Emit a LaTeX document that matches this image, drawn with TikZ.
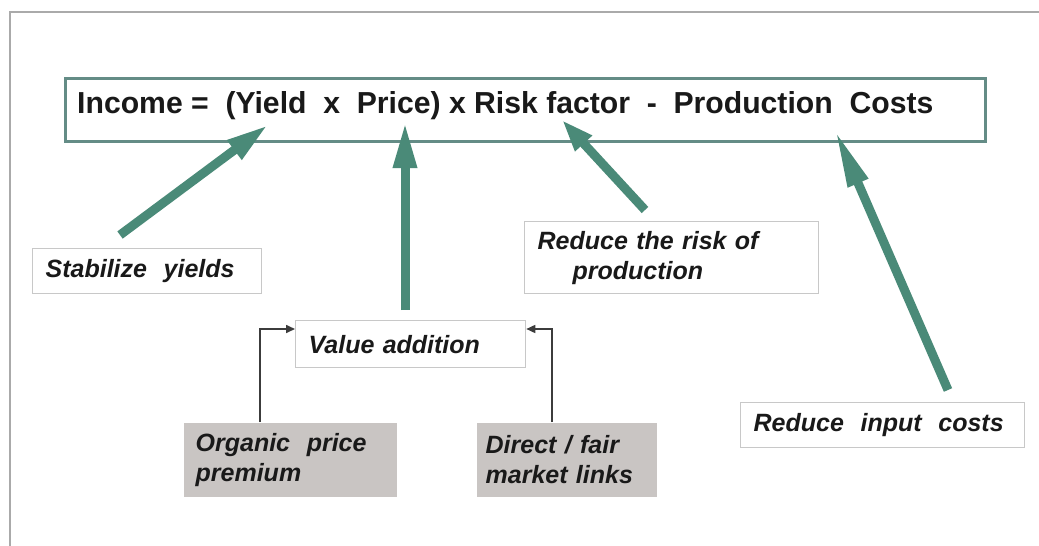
\documentclass[tikz,border=0pt]{standalone}
\usepackage{fontspec}
\setmainfont{Liberation Sans}
\usetikzlibrary{arrows.meta}
\definecolor{tealarrow}{RGB}{74,138,120}
\definecolor{mainedge}{RGB}{100,140,134}
\definecolor{boxedge}{RGB}{200,200,200}
\definecolor{framegray}{RGB}{170,170,170}
\definecolor{boxfill}{RGB}{201,197,195}
\definecolor{inkc}{RGB}{25,25,25}
\tikzset{
  lbl/.style={draw=boxedge, line width=1.3pt, fill=white, text=inkc,
    font=\fontsize{25}{30}\selectfont\bfseries\itshape, align=left,
    inner ysep=0pt, anchor=north west},
  graylbl/.style={lbl, draw=none, fill=boxfill},
  bigarrow/.style={draw=tealarrow, line width=9pt, line cap=butt},
  sarrow/.style={draw=inkc!85, line width=1.6pt, -{Triangle[length=9pt,width=8pt]}},
}
\begin{document}
\begin{tikzpicture}[x=1pt,y=-1pt]
\useasboundingbox (0,0) rectangle (1039,546);
\fill[white] (0,0) rectangle (1039,546);
\draw[framegray, line width=1.3pt] (1039,12) -- (10,12) -- (10,546);

% main equation box
\node[draw=mainedge, line width=2.6pt, minimum width=920pt, minimum height=63pt, anchor=north west, inner sep=0pt] (eq) at (64,77) {};
\node[anchor=base west, inner sep=0pt, text=inkc] (eqtext) at (77,113)
  {\resizebox{856pt}{22pt}{\bfseries Income~=~~(Yield~~x~~Price)~x~Risk~factor~~-~~Production~~Costs}};

% label boxes
\node[lbl, minimum height=45pt, inner xsep=13pt, text width=203pt] (stab) at (32,248) {Stabilize\ \ yields};
\node[lbl, minimum height=47pt, inner xsep=13pt, text width=204pt] (val) at (295,320) {Value addition};
\node[lbl, minimum height=72pt, inner xsep=13pt, text width=268pt] (risk) at (524,221) {Reduce\ the risk of\\\hspace{35pt}production};
\node[lbl, minimum height=45pt, inner xsep=13pt, text width=258pt] (inp) at (740,402) {Reduce\ \ input\ \ costs};
\node[graylbl, minimum height=74pt, inner xsep=12pt, text width=189pt] (org) at (183,422) {Organic\ \ price\\premium};
\node[graylbl, minimum height=74pt, inner xsep=9pt, text width=162pt] (dir) at (476,422) {Direct / fair\\market\ links};

% big arrows
\coordinate (t1) at (120,235); \coordinate (h1) at (268,125);
\coordinate (t2) at (405,310); \coordinate (h2) at (405,122);
\coordinate (t3) at (645,210); \coordinate (h3) at (562,120);
\coordinate (t4) at (948,390); \coordinate (h4) at (835,130);
\draw[bigarrow, -{Triangle[length=42pt,width=22pt]}] (t1) -- (h1);
\draw[bigarrow, -{Triangle[length=46pt,width=22pt]}] (t2) -- (h2);
\draw[bigarrow, -{Triangle[length=32pt,width=21pt]}] (t3) -- (h3);
\draw[bigarrow, -{Triangle[length=58pt,width=20pt]}] (t4) -- (h4);

% small arrows into value addition
\draw[sarrow] ([xshift=77pt]org.north west) |- ([yshift=-9pt]val.north west);
\draw[sarrow] ([xshift=76pt]dir.north west) |- ([yshift=-9pt]val.north east);
\end{tikzpicture}
\end{document}
